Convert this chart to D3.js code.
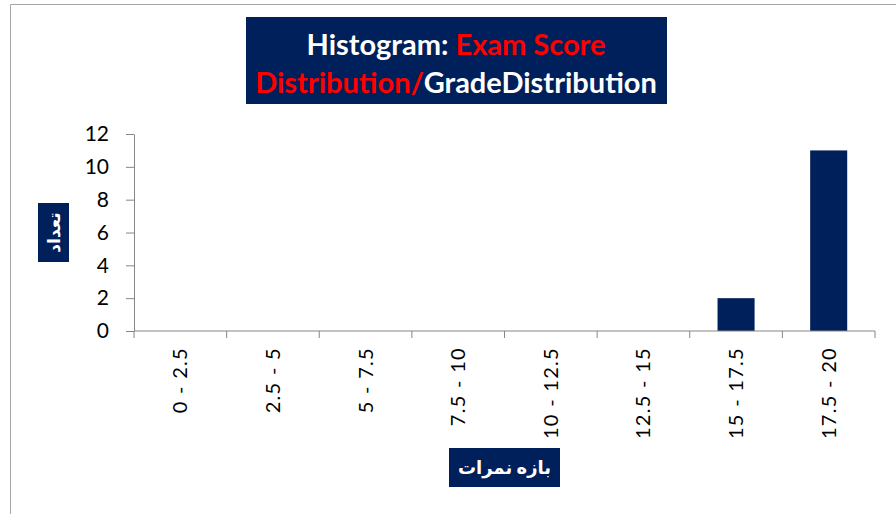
<!DOCTYPE html>
<html>
<head>
<meta charset="utf-8">
<script src="https://cdn.jsdelivr.net/npm/d3@7"></script>
<style>
  body { margin: 0; background: #fff; }
  svg { display: block; }
</style>
</head>
<body>
<div id="chart"></div>
<script>
// histogram bins and counts
const bins = ["0 - 2.5", "2.5 - 5", "5 - 7.5", "7.5 - 10", "10 - 12.5", "12.5 - 15", "15 - 17.5", "17.5 - 20"];
const counts = [0, 0, 0, 0, 0, 0, 2, 11];
const yTicks = [0, 2, 4, 6, 8, 10, 12];

const W = 896, H = 514;
const navy = "#00205b";
const axisGrey = "#868686";
const font = "Lato, 'DejaVu Sans', sans-serif";

const svg = d3.select("#chart").append("svg")
    .attr("width", W)
    .attr("height", H);

// chart area frame (cut off on right and bottom)
svg.append("path")
    .attr("d", "M10.5," + H + "V4.5H" + W)
    .attr("fill", "none")
    .attr("stroke", "#a6a6a6");

const plot = {left: 134, right: 875, top: 134, bottom: 331};

const x = d3.scaleBand()
    .domain(bins)
    .range([plot.left, plot.right])
    .paddingInner(0.6)
    .paddingOuter(0.3);

const xEdge = d3.scaleLinear()
    .domain([0, bins.length])
    .range([plot.left, plot.right]);

const y = d3.scaleLinear()
    .domain([0, 12])
    .range([plot.bottom, plot.top]);

// bars
svg.append("g").selectAll("rect")
    .data(bins.map((b, i) => ({bin: b, count: counts[i]})))
    .enter().append("rect")
    .attr("x", d => x(d.bin))
    .attr("width", x.bandwidth())
    .attr("y", d => y(d.count))
    .attr("height", d => y(0) - y(d.count))
    .attr("fill", navy);

// y axis
const yAxis = svg.append("g")
    .attr("transform", "translate(" + plot.left + ",0)")
    .call(d3.axisLeft(y).tickValues(yTicks).tickSize(8).tickSizeOuter(0).tickPadding(17));
yAxis.select(".domain").attr("stroke", axisGrey);
yAxis.selectAll(".tick line").attr("stroke", axisGrey);
yAxis.selectAll(".tick text")
    .attr("fill", "#000")
    .style("font-family", font)
    .style("font-size", "21px");

// x axis: ticks at bin edges
const xAxisG = svg.append("g")
    .attr("transform", "translate(0," + plot.bottom + ")");
xAxisG.append("line")
    .attr("x1", plot.left).attr("x2", plot.right)
    .attr("stroke", axisGrey);
xAxisG.selectAll("line.tk")
    .data(d3.range(bins.length + 1))
    .enter().append("line")
    .attr("class", "tk")
    .attr("x1", d => xEdge(d)).attr("x2", d => xEdge(d))
    .attr("y1", 0).attr("y2", 7)
    .attr("stroke", axisGrey);
xAxisG.selectAll("text")
    .data(bins)
    .enter().append("text")
    .attr("transform", d => "translate(" + (x(d) + x.bandwidth() / 2 + 7) + ",16) rotate(-90)")
    .attr("text-anchor", "end")
    .style("font-family", font)
    .style("font-size", "20px")
    .style("letter-spacing", "1.3px")
    .text(d => d);

// title box
svg.append("rect")
    .attr("x", 246).attr("y", 17)
    .attr("width", 421).attr("height", 87)
    .attr("fill", navy);
const t1 = svg.append("text")
    .attr("x", 456).attr("y", 55)
    .attr("text-anchor", "middle")
    .style("font-family", font)
    .style("font-weight", "bold")
    .style("font-size", "29px");
t1.append("tspan").attr("fill", "#fff").text("Histogram: ");
t1.append("tspan").attr("fill", "#ff0000").text("Exam Score");
const t2 = svg.append("text")
    .attr("x", 456).attr("y", 93)
    .attr("text-anchor", "middle")
    .style("font-family", font)
    .style("font-weight", "bold")
    .style("font-size", "29px");
t2.append("tspan").attr("fill", "#ff0000").text("Distribution/");
t2.append("tspan").attr("fill", "#fff").text("GradeDistribution");

// y axis title
svg.append("rect")
    .attr("x", 38).attr("y", 203)
    .attr("width", 31).attr("height", 59)
    .attr("fill", navy);
svg.append("text")
    .attr("transform", "translate(60,232.5) rotate(-90)")
    .attr("text-anchor", "middle")
    .attr("fill", "#fff")
    .style("font-family", font)
    .style("font-weight", "bold")
    .style("font-size", "17px")
    .text("تعداد");

// x axis title
svg.append("rect")
    .attr("x", 449).attr("y", 448)
    .attr("width", 111).attr("height", 39)
    .attr("fill", navy);
svg.append("text")
    .attr("x", 504.5).attr("y", 474)
    .attr("text-anchor", "middle")
    .attr("fill", "#fff")
    .style("font-family", font)
    .style("font-weight", "bold")
    .style("font-size", "18px")
    .text("بازه نمرات");
</script>
</body>
</html>
